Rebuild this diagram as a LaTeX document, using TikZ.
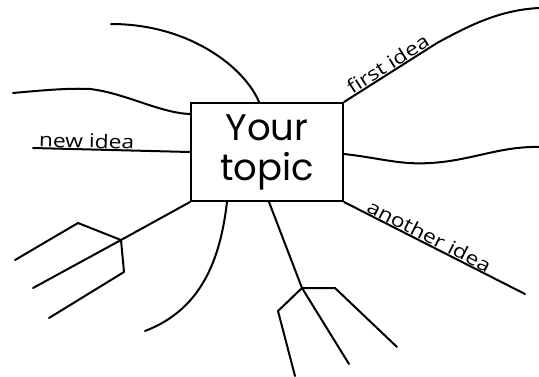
\documentclass[tikz,border=0pt]{standalone}
\usepackage{fontspec}
\setmainfont{Open Sans}
\newfontfamily\topicfont{Poppins}
\newfontfamily\ideafont[FakeStretch=1.2]{Open Sans}
\usetikzlibrary{positioning,calc}
\tikzset{
  branch/.style={line width=2pt,line cap=round,line join=round},
  topicbox/.style={draw,line width=2pt,minimum width=152pt,minimum height=98pt,
                   inner sep=0pt,align=center,
                   font=\topicfont\fontsize{37}{40}\selectfont},
  idea/.style={font=\ideafont\fontsize{19}{19}\selectfont,inner sep=0.3pt,sloped,above},
}

\begin{document}
\begin{tikzpicture}[x=1pt,y=-1pt]
  \useasboundingbox (0,0) rectangle (539,376);
  % ===== central topic =====
  \node[topicbox] (topic) at (267,152) {\raisebox{-4pt}{Your}\\\raisebox{-4pt}{topic}};

  % ===== free ends and forks =====
  \coordinate (topEnd)  at (111,24);
  \coordinate (upL1)    at (13,93);
  \coordinate (upL2)    at (90,89);
  \coordinate (newEnd)  at (33,148);
  \coordinate (firstK)  at (437,43);
  \coordinate (firstEnd) at (539,8);
  \coordinate (midK)    at (430,163);
  \coordinate (midEnd)  at (539,147);
  \coordinate (anoEnd)  at (525,294);
  \coordinate (forkL)   at (121,240);
  \coordinate (forkR)   at (302,288);
  \coordinate (botEnd)  at (145,331);

  % ===== upper left =====
  \draw[branch] ([xshift=69pt]topic.north west) .. controls (245,68) and (190,24) .. (topEnd);
  \draw[branch] (upL1) .. controls (45,90) and (70,88) .. (upL2)
                       .. controls (125,93) and (160,113) .. ([yshift=-12pt]topic.north west);
  \draw[branch] (newEnd) -- node[idea,pos=0.34] (newLbl) {new idea} (topic.west);

  % ===== right side =====
  \draw[branch] (topic.north east) -- node[idea,pos=0.52] (firstLbl) {first idea} (firstK)
                .. controls (470,25) and (500,10) .. (firstEnd);
  \draw[branch] ([yshift=-2pt]topic.east) .. controls (380,158) and (400,165) .. (midK)
                .. controls (470,161) and (500,146) .. (midEnd);
  \draw[branch] (topic.south east) -- node[idea,pos=0.45] (anoLbl) {another idea} (anoEnd);

  % ===== lower left fork =====
  \draw[branch] (topic.south west) -- (forkL) -- (33,288);
  \draw[branch] (forkL) -- (78,223) -- (15,260);
  \draw[branch] (forkL) -- (124,272) -- (49,318);

  % ===== lower curve =====
  \draw[branch] ([xshift=37pt]topic.south west) .. controls (220,262) and (200,310) .. (botEnd);

  % ===== lower right fork =====
  \draw[branch] ([xshift=79pt]topic.south west) -- (forkR) -- (349,364);
  \draw[branch] (forkR) -- (335,288) -- (397,347);
  \draw[branch] (forkR) -- (278,311) -- (295,376);
\end{tikzpicture}
\end{document}
